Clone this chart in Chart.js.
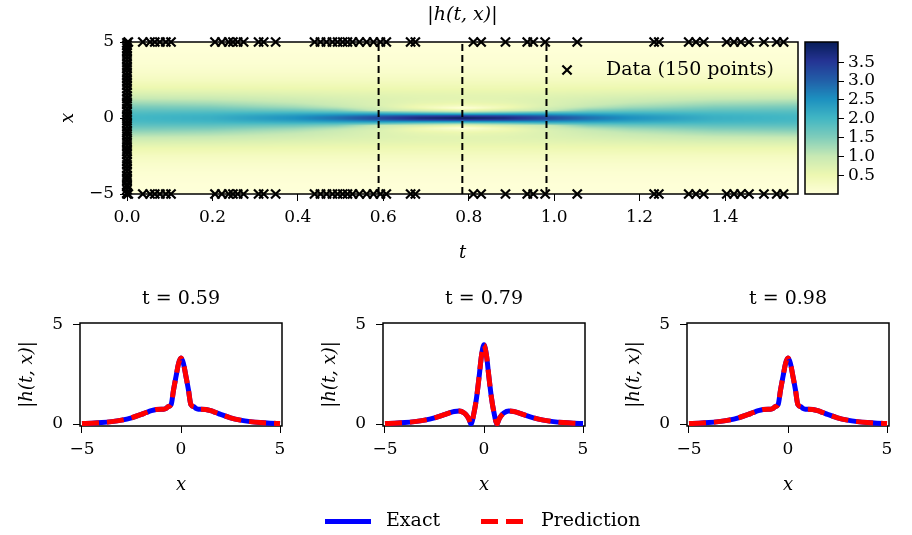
<!DOCTYPE html>
<html>
<head>
<meta charset="utf-8">
<script src="https://cdn.jsdelivr.net/npm/chart.js@4.4.0/dist/chart.umd.min.js"></script>
<style>
  html, body { margin: 0; padding: 0; background: #fff; }
  body { position: relative; width: 912px; height: 535px; overflow: hidden; }
  canvas { position: absolute; }
  .sw { position: absolute; height: 5px; width: 46px; top: 519px; }
  .lab { position: absolute; top: 508px; font: 19px 'DejaVu Serif', serif; color: #000; }
</style>
</head>
<body>
<canvas id="heat" width="845" height="270" style="left:40px;top:0px"></canvas>
<canvas id="cbar" width="112" height="270" style="left:800px;top:0px"></canvas>
<canvas id="sub1" width="362" height="230" style="left:0px;top:270px"></canvas>
<canvas id="sub2" width="362" height="230" style="left:303px;top:270px"></canvas>
<canvas id="sub3" width="362" height="230" style="left:607px;top:270px"></canvas>
<span class="sw" style="left:325px;background:#0000ff"></span>
<span class="lab" style="left:386px">Exact</span>
<span class="sw" style="left:481px;background:repeating-linear-gradient(90deg,#ff0000 0 17px,transparent 17px 25px)"></span>
<span class="lab" style="left:541px">Prediction</span>
<script>
// x grid shared by all profiles
const xGrid = [-5,-4.5,-4,-3.5,-3,-2.5,-2,-1.75,-1.5,-1.25,-1,-0.875,-0.75,-0.66,-0.5,-0.375,-0.25,-0.125,0,0.125,0.25,0.375,0.5,0.66,0.75,0.875,1,1.25,1.5,1.75,2,2.5,3,3.5,4,4.5,5];

// |h(t,x)| profiles
const hAt000 = [0.027,0.044,0.073,0.121,0.199,0.326,0.532,0.675,0.850,1.059,1.296,1.420,1.545,1.627,1.774,1.867,1.939,1.984,2.000,1.984,1.939,1.867,1.774,1.627,1.545,1.420,1.296,1.059,0.850,0.675,0.532,0.326,0.199,0.121,0.073,0.044,0.027];
const hAt020 = [0.027,0.044,0.073,0.121,0.199,0.324,0.524,0.660,0.823,1.015,1.235,1.355,1.487,1.585,1.763,1.897,2.012,2.092,2.120,2.092,2.012,1.897,1.763,1.585,1.487,1.355,1.235,1.015,0.823,0.660,0.524,0.324,0.199,0.121,0.073,0.044,0.027];
const hAt039 = [0.027,0.044,0.073,0.121,0.198,0.320,0.505,0.623,0.753,0.892,1.046,1.141,1.268,1.383,1.659,1.931,2.216,2.442,2.530,2.442,2.216,1.931,1.659,1.383,1.268,1.141,1.046,0.892,0.753,0.623,0.505,0.320,0.198,0.121,0.073,0.044,0.027];
const hAt049 = [0.027,0.044,0.073,0.121,0.198,0.317,0.495,0.601,0.711,0.812,0.906,0.966,1.065,1.177,1.502,1.884,2.333,2.723,2.882,2.723,2.333,1.884,1.502,1.177,1.065,0.966,0.906,0.812,0.711,0.601,0.495,0.317,0.198,0.121,0.073,0.044,0.027];
const hAt059 = [0.027,0.044,0.073,0.121,0.197,0.315,0.486,0.583,0.673,0.734,0.750,0.751,0.790,0.871,0.975,1.732,2.404,3.052,3.334,3.052,2.404,1.732,0.975,0.871,0.790,0.751,0.750,0.734,0.673,0.583,0.486,0.315,0.197,0.121,0.073,0.044,0.027];
const hAt069 = [0.027,0.044,0.073,0.120,0.196,0.314,0.479,0.570,0.645,0.675,0.612,0.534,0.459,0.468,0.842,1.483,2.391,3.344,3.789,3.344,2.391,1.483,0.842,0.468,0.459,0.534,0.612,0.675,0.645,0.570,0.479,0.314,0.196,0.120,0.073,0.044,0.027];
const hAt079 = [0.027,0.044,0.073,0.120,0.195,0.313,0.477,0.565,0.635,0.652,0.553,0.425,0.222,0.000,0.594,1.334,2.357,3.466,4.000,3.466,2.357,1.334,0.594,0.000,0.222,0.425,0.553,0.652,0.635,0.565,0.477,0.313,0.195,0.120,0.073,0.044,0.027];
const hAt098 = [0.027,0.044,0.073,0.121,0.197,0.315,0.486,0.583,0.673,0.734,0.750,0.751,0.790,0.871,0.975,1.732,2.404,3.052,3.334,3.052,2.404,1.732,0.975,0.871,0.790,0.751,0.750,0.734,0.673,0.583,0.486,0.315,0.197,0.121,0.073,0.044,0.027];

// heatmap columns (time symmetric around pi/4)
const heatT = [0, 0.196, 0.393, 0.491, 0.589, 0.687, 0.785, 0.884, 0.982, 1.080, 1.178, 1.374, 1.571];
const heatCols = [hAt000, hAt020, hAt039, hAt049, hAt059, hAt069, hAt079, hAt069, hAt098, hAt049, hAt039, hAt020, hAt000];

// training data: boundary times (x = +-5) and initial positions (t = 0)
const bndT = [0.003,0.037,0.054,0.065,0.077,0.091,0.103,0.206,0.222,0.238,0.248,0.259,0.273,0.308,0.320,0.348,
  0.439,0.453,0.467,0.481,0.493,0.505,0.516,0.528,0.544,0.561,0.577,0.593,0.607,0.664,0.675,0.811,0.829,0.886,
  0.937,0.951,0.979,1.054,1.234,1.245,1.315,1.332,1.350,1.404,1.421,1.437,1.456,1.491,1.521,1.537];
const initX = [-4.93,-4.71,-4.52,-4.38,-4.12,-3.95,-3.77,-3.51,-3.32,-3.08,-2.87,-2.69,-2.41,-2.22,-2.05,-1.83,
  -1.61,-1.44,-1.19,-0.98,-0.81,-0.57,-0.36,-0.17,0.06,0.21,0.43,0.62,0.88,1.04,1.27,1.46,1.71,1.93,2.14,2.36,
  2.58,2.77,2.99,3.24,3.41,3.63,3.86,4.05,4.27,4.44,4.61,4.79,4.95,-4.99];

const sliceT = [0.589, 0.785, 0.982];
const sliceLabels = ['t = 0.59', 't = 0.79', 't = 0.98'];
const sliceExact = [hAt059, hAt079, hAt098];
const slicePred = [hAt059, hAt079, hAt098];

const tTicks = [0, 0.2, 0.4, 0.6, 0.8, 1.0, 1.2, 1.4];
const xTicks = [-5, 0, 5];
const hTicks = [0, 5];
const cbarTicks = [0.5, 1.0, 1.5, 2.0, 2.5, 3.0, 3.5];
const cmin = 0.02, cmax = 4.03;

// YlGnBu
const ylgnbu = [[255,255,217],[237,248,177],[199,233,180],[127,205,187],[65,182,196],[29,145,192],[34,94,168],[37,52,148],[8,29,88]];
function cmap(v) {
  let f = (v - cmin) / (cmax - cmin);
  f = Math.max(0, Math.min(1, f)) * 8;
  const i = Math.min(7, Math.floor(f)), r = f - i;
  const a = ylgnbu[i], b = ylgnbu[i + 1];
  return [a[0] + (b[0] - a[0]) * r, a[1] + (b[1] - a[1]) * r, a[2] + (b[2] - a[2]) * r];
}

function bracket(arr, v) {
  let i = 0;
  while (i < arr.length - 2 && v > arr[i + 1]) i++;
  const f = Math.max(0, Math.min(1, (v - arr[i]) / (arr[i + 1] - arr[i])));
  return [i, f];
}

function field(t, x) {
  const [i, ft] = bracket(heatT, t);
  const [j, fx] = bracket(xGrid, x);
  const a = heatCols[i], b = heatCols[i + 1];
  const va = a[j] + (a[j + 1] - a[j]) * fx;
  const vb = b[j] + (b[j + 1] - b[j]) * fx;
  return va + (vb - va) * ft;
}

const minus = v => (v < 0 ? '\u2212' + Math.abs(v) : String(v));

Chart.defaults.font.family = "'DejaVu Serif', serif";
Chart.defaults.font.size = 17;
Chart.defaults.color = '#000';

const heatPlugin = {
  id: 'heatmap',
  beforeDatasetsDraw(chart) {
    const { ctx, chartArea: a, scales: { x: sx, y: sy } } = chart;
    const w = Math.round(a.right - a.left), h = Math.round(a.bottom - a.top);
    const off = document.createElement('canvas');
    off.width = w; off.height = h;
    const octx = off.getContext('2d');
    const img = octx.createImageData(w, h);
    const ts = [];
    for (let i = 0; i < w; i++) ts.push(sx.getValueForPixel(a.left + i + 0.5));
    for (let j = 0; j < h; j++) {
      const xv = sy.getValueForPixel(a.top + j + 0.5);
      for (let i = 0; i < w; i++) {
        const c = cmap(field(ts[i], xv));
        const k = (j * w + i) * 4;
        img.data[k] = c[0]; img.data[k + 1] = c[1]; img.data[k + 2] = c[2]; img.data[k + 3] = 255;
      }
    }
    octx.putImageData(img, 0, 0);
    ctx.drawImage(off, a.left, a.top);
  }
};

const cbarPlugin = {
  id: 'cbarFill',
  beforeDatasetsDraw(chart) {
    const { ctx, chartArea: a, scales: { y: sy } } = chart;
    for (let y = Math.floor(a.top); y < a.bottom; y++) {
      const c = cmap(sy.getValueForPixel(y + 0.5));
      ctx.fillStyle = `rgb(${c[0] | 0},${c[1] | 0},${c[2] | 0})`;
      ctx.fillRect(a.left, y, a.right - a.left, 1);
    }
  }
};

const framePlugin = {
  id: 'frame',
  beforeDatasetsDraw(chart) {
    const { ctx, chartArea: a } = chart;
    ctx.save();
    ctx.strokeStyle = '#000';
    ctx.lineWidth = 1.5;
    ctx.strokeRect(a.left, a.top, a.right - a.left, a.bottom - a.top);
    ctx.restore();
  }
};

const dataLegend = {
  id: 'dataLegend',
  afterDatasetsDraw(chart) {
    const { ctx, chartArea: a } = chart;
    const ds = chart.data.datasets.find(d => d.label);
    ctx.save();
    ctx.strokeStyle = '#000';
    ctx.fillStyle = '#000';
    Chart.helpers.drawPoint(ctx, { pointStyle: 'crossRot', radius: 6.5, borderWidth: 2.2, rotation: 0 }, a.right - 231, a.top + 28);
    ctx.font = "19px 'DejaVu Serif', serif";
    ctx.textBaseline = 'middle';
    ctx.fillText(ds.label, a.right - 192, a.top + 28);
    ctx.restore();
  }
};

function tickGrid() {
  return { drawOnChartArea: false, drawTicks: true, tickLength: 7, color: '#000', lineWidth: 1 };
}

// blank right axis so that the native title centres over the plot area
function spacer(w) {
  return {
    position: 'right', display: true, min: 0, max: 1,
    ticks: { display: false }, grid: { display: false }, border: { display: false },
    afterFit: s => { s.width = w; }
  };
}

// ---- top heatmap ----
const dataPts = [
  ...bndT.map(t => ({ x: t, y: 5 })),
  ...bndT.map(t => ({ x: t, y: -5 })),
  ...initX.map(x => ({ x: 0, y: x }))
];

new Chart(document.getElementById('heat'), {
  type: 'scatter',
  data: {
    datasets: [
      ...sliceT.map(t => ({
        data: [{ x: t, y: -5 }, { x: t, y: 5 }],
        showLine: true, borderColor: '#000', borderWidth: 2, borderDash: [7, 4], pointRadius: 0
      })),
      {
        label: 'Data (150 points)', data: dataPts, pointStyle: 'crossRot', pointRadius: 6.5,
        pointBorderWidth: 2.2, borderColor: '#000', backgroundColor: '#000', clip: false
      }
    ]
  },
  options: {
    responsive: false, animation: false,
    layout: { padding: 0, autoPadding: false },
    plugins: {
      legend: { display: false }, tooltip: { enabled: false },
      title: { display: true, text: '|h(t, x)|', font: { size: 19, style: 'italic', weight: 'normal' }, padding: { top: 4, bottom: 15.2 } }
    },
    scales: {
      x: {
        type: 'linear', min: 0, max: 1.5708,
        afterBuildTicks: s => { s.ticks = tTicks.map(v => ({ value: v })); },
        afterFit: s => { s.height = 76; },
        ticks: { callback: v => v.toFixed(1), autoSkip: false, maxRotation: 0, padding: 6, font: { size: 17 } },
        grid: tickGrid(), border: { display: false },
        title: { display: true, text: 't', font: { size: 18, style: 'italic' }, padding: { top: 0, bottom: 6 } }
      },
      y: {
        min: -5, max: 5,
        afterBuildTicks: s => { s.ticks = xTicks.map(v => ({ value: v })); },
        afterFit: s => { s.width = 87; },
        ticks: { callback: minus, autoSkip: false, padding: 6, font: { size: 17 } },
        grid: tickGrid(), border: { display: false },
        title: { display: true, text: 'x', font: { size: 18, style: 'italic' }, padding: { top: 18, bottom: 0 } }
      },
      yR: spacer(87)
    }
  },
  plugins: [heatPlugin, framePlugin, dataLegend]
});

// ---- colour bar ----
new Chart(document.getElementById('cbar'), {
  type: 'scatter',
  data: { datasets: [] },
  options: {
    responsive: false, animation: false,
    layout: { padding: { left: 5, right: 0, top: 42, bottom: 76 }, autoPadding: false },
    plugins: { legend: { display: false }, tooltip: { enabled: false } },
    scales: {
      x: { display: false, min: 0, max: 1 },
      y: {
        position: 'right', min: cmin, max: cmax,
        afterBuildTicks: s => { s.ticks = cbarTicks.map(v => ({ value: v })); },
        afterFit: s => { s.width = 74; },
        ticks: { callback: v => v.toFixed(1), autoSkip: false, padding: 4, font: { size: 17 } },
        grid: { drawOnChartArea: false, drawTicks: true, tickLength: 6, color: '#000' }, border: { display: false }
      }
    }
  },
  plugins: [cbarPlugin, framePlugin]
});

// ---- slices ----
function makeSlice(id, k) {
  const mk = arr => xGrid.map((x, i) => ({ x, y: arr[i] }));
  new Chart(document.getElementById(id), {
    type: 'scatter',
    data: {
      datasets: [
        // first dataset is painted last, so the dashed prediction sits on top
        { label: 'Prediction', data: mk(slicePred[k]), showLine: true, borderColor: '#ff0000', borderWidth: 5,
          borderDash: [17, 8], pointRadius: 0, cubicInterpolationMode: 'monotone' },
        { label: 'Exact', data: mk(sliceExact[k]), showLine: true, borderColor: '#0000ff', borderWidth: 5,
          pointRadius: 0, cubicInterpolationMode: 'monotone' }
      ]
    },
    options: {
      responsive: false, animation: false,
      layout: { padding: 0, autoPadding: false },
      plugins: {
        legend: { display: false }, tooltip: { enabled: false },
        title: { display: true, text: sliceLabels[k], font: { size: 19, style: 'normal', weight: 'normal' }, padding: { top: 18, bottom: 12.2 } }
      },
      scales: {
        x: {
          type: 'linear', min: -5.1, max: 5.1,
          afterBuildTicks: s => { s.ticks = xTicks.map(v => ({ value: v })); },
          afterFit: s => { s.height = 74; },
          ticks: { callback: minus, autoSkip: false, maxRotation: 0, padding: 6, font: { size: 17 } },
          grid: tickGrid(), border: { display: false },
          title: { display: true, text: 'x', font: { size: 18, style: 'italic' }, padding: { top: 0, bottom: 4 } }
        },
        y: {
          min: -0.1, max: 5.1,
          afterBuildTicks: s => { s.ticks = hTicks.map(v => ({ value: v })); },
          afterFit: s => { s.width = 80; },
          ticks: { callback: minus, autoSkip: false, padding: 10, font: { size: 17 } },
          grid: tickGrid(), border: { display: false },
          title: { display: true, text: '|h(t, x)|', font: { size: 18, style: 'italic' }, padding: { top: 17, bottom: 0 } }
        },
        yR: spacer(80)
      }
    },
    plugins: [framePlugin]
  });
}
makeSlice('sub1', 0);
makeSlice('sub2', 1);
makeSlice('sub3', 2);
</script>
</body>
</html>
